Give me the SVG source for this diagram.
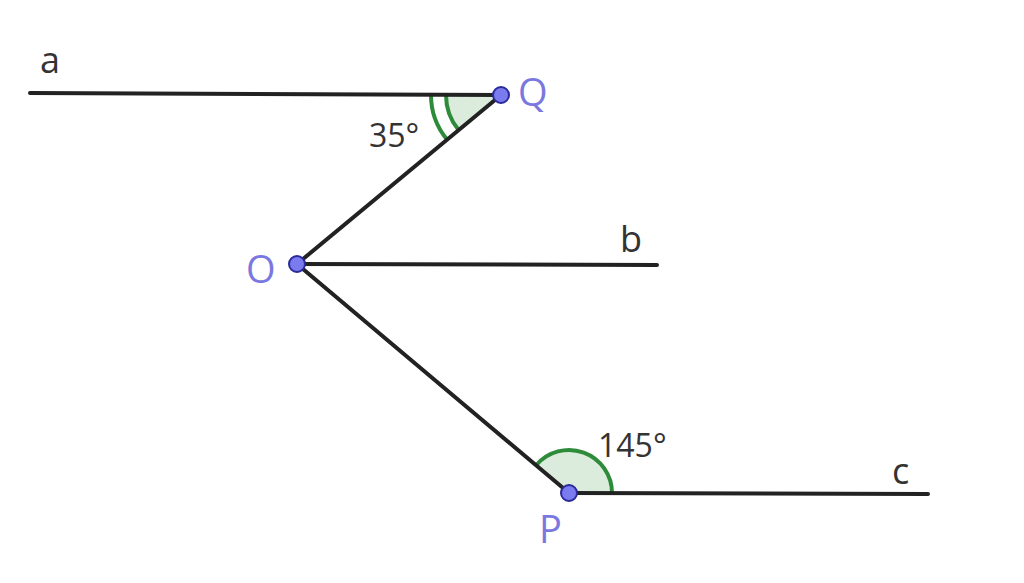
<svg xmlns="http://www.w3.org/2000/svg" width="1024" height="583" viewBox="0 0 1024 583">
<style>
.ln{stroke:#222;stroke-width:4;fill:none;stroke-linecap:round}
.arc{stroke:#2e8b3a;stroke-width:4;fill:none}
.sec{fill:#dcecdc;stroke:none}
.pt{fill:#7b7bf0;stroke:#2a2a9a;stroke-width:2}
.lbl{font-family:"Open Sans","Liberation Sans",sans-serif;font-size:36px;fill:#333}
.plbl{font-family:"Open Sans","Liberation Sans",sans-serif;font-size:38px;fill:#7a78e0}
.num{font-family:"Open Sans","Liberation Sans",sans-serif;font-size:32px;fill:#333}
</style>
<rect width="1024" height="583" fill="#fff"/>
<g id="angles">
<path class="sec" d="M501,95 L446,95 A55,55 0 0 0 458.6,130.1 Z"/>
<path class="arc" d="M446,95 A55,55 0 0 0 458.6,130.1"/>
<path class="arc" d="M431,95 A70,70 0 0 0 447.1,139.6"/>
<path class="sec" d="M569,493 L612,493 A43,43 0 0 0 536.1,465.3 Z"/>
<path class="arc" d="M612,493 A43,43 0 0 0 536.1,465.3"/>
</g>
<g id="connectors">
<line class="ln" x1="30" y1="93" x2="501" y2="95"/>
<line class="ln" x1="501" y1="95" x2="297" y2="264"/>
<line class="ln" x1="297" y1="264" x2="657" y2="265"/>
<line class="ln" x1="297" y1="264" x2="569" y2="493"/>
<line class="ln" x1="569" y1="493" x2="928" y2="494"/>
</g>
<g id="node-Q">
<circle class="pt" cx="501" cy="95" r="8"/>
<text class="plbl" x="518" y="106">Q</text>
</g>
<g id="node-O">
<circle class="pt" cx="297" cy="264" r="8"/>
<text class="plbl" x="246" y="283">O</text>
</g>
<g id="node-P">
<circle class="pt" cx="569" cy="493" r="8"/>
<text class="plbl" x="539" y="543">P</text>
</g>
<g id="labels">
<text class="lbl" x="40" y="73">a</text>
<text class="lbl" x="620" y="252">b</text>
<text class="lbl" x="892" y="484">c</text>
<text class="num" x="369" y="147">35°</text>
<text class="num" x="598" y="457">145°</text>
</g>
</svg>
